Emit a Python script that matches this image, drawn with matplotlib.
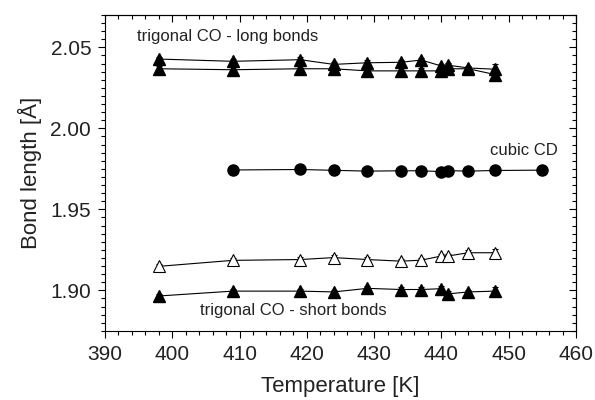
import numpy as np
import matplotlib
matplotlib.use("Agg")
import matplotlib.pyplot as plt
from matplotlib.ticker import MultipleLocator

plt.rcParams['font.family'] = ['Liberation Sans', 'DejaVu Sans']

# temperatures of the trigonal phase (K)
T_trig = [398, 409, 419, 424, 429, 434, 437, 440, 441, 444, 448]
# long bonds (two sets)
long_a = [2.0428, 2.0414, 2.0424, 2.0395, 2.0405, 2.0408, 2.0422, 2.0385, 2.0390, 2.0373, 2.0365]
long_b = [2.0368, 2.0362, 2.0368, 2.0368, 2.0355, 2.0355, 2.0355, 2.0355, 2.0368, 2.0368, 2.0332]
long_err = [0.0015, 0.0015, 0.0015, 0.0015, 0.0015, 0.0015, 0.0015, 0.0015, 0.0015, 0.0012, 0.0035]
# short bonds
short_open = [1.9148, 1.9185, 1.9190, 1.9202, 1.9190, 1.9180, 1.9186, 1.9212, 1.9212, 1.9232, 1.9232]
short_fill = [1.8965, 1.8995, 1.8995, 1.8990, 1.9012, 1.9005, 1.9005, 1.9010, 1.8978, 1.8990, 1.8995]
short_err = [0.0015, 0.0015, 0.0015, 0.0015, 0.0015, 0.0015, 0.0015, 0.0015, 0.0015, 0.0015, 0.0025]

# cubic phase
T_cub = [409, 419, 424, 429, 434, 437, 440, 441, 444, 448, 455]
cubic = [1.9743, 1.9746, 1.9741, 1.9736, 1.9738, 1.9738, 1.9733, 1.9739, 1.9736, 1.9740, 1.9742]
cubic_err = [0.0015, 0.0008, 0.0008, 0.0008, 0.0008, 0.0008, 0.0008, 0.0008, 0.0008, 0.0008, 0.0008]

fig = plt.figure(figsize=(5.95, 4.0), dpi=100)
ax = fig.add_axes([0.1765, 0.173, 0.7915, 0.7895])

kw = dict(color='black', lw=0.8, elinewidth=0.8, capsize=2.5, capthick=0.8)
ax.errorbar(T_trig, long_a, yerr=long_err, fmt='-^', ms=9, mfc='black', mec='black', **kw)
ax.errorbar(T_trig, long_b, yerr=long_err, fmt='-^', ms=9, mfc='black', mec='black', **kw)
ax.errorbar(T_trig, short_open, yerr=short_err, fmt='-^', ms=9, mfc='white', mec='black', mew=0.8, **kw)
ax.errorbar(T_trig, short_fill, yerr=short_err, fmt='-^', ms=9, mfc='black', mec='black', **kw)
ax.errorbar(T_cub, cubic, yerr=cubic_err, fmt='-o', ms=8, mfc='black', mec='black', **kw)

txt = '#222222'
ax.text(394.8, 2.057, 'trigonal CO - long bonds', fontsize=12, va='center', ha='left', color=txt)
ax.text(447.2, 1.9866, 'cubic CD', fontsize=12, va='center', ha='left', color=txt)
ax.text(404.1, 1.8878, 'trigonal CO - short bonds', fontsize=12, va='center', ha='left', color=txt)

ax.set_xlim(390, 460)
ax.set_ylim(1.875, 2.07)
ax.xaxis.set_major_locator(MultipleLocator(10))
ax.xaxis.set_minor_locator(MultipleLocator(2))
ax.yaxis.set_major_locator(MultipleLocator(0.05))
ax.yaxis.set_minor_locator(MultipleLocator(0.005))
ax.tick_params(which='both', direction='out', width=0.8, labelsize=15, colors='black',
               labelcolor=txt, pad=5)
ax.tick_params(which='major', length=5)
ax.tick_params(which='minor', length=3)

top = ax.secondary_xaxis('top')
top.xaxis.set_major_locator(MultipleLocator(10))
top.xaxis.set_minor_locator(MultipleLocator(2))
top.tick_params(which='both', direction='in', labeltop=False, width=0.8)
top.tick_params(which='major', length=5)
top.tick_params(which='minor', length=3)

right = ax.secondary_yaxis('right')
right.yaxis.set_major_locator(MultipleLocator(0.05))
right.yaxis.set_minor_locator(MultipleLocator(0.005))
right.tick_params(which='both', direction='in', labelright=False, width=0.8)
right.tick_params(which='major', length=5)
right.tick_params(which='minor', length=3)

for s in ax.spines.values():
    s.set_linewidth(0.8)

ax.set_xlabel('Temperature [K]', fontsize=16, color=txt, labelpad=9)
ax.set_ylabel('Bond length [Å]', fontsize=16, color=txt, labelpad=6)

fig.savefig('out.png', dpi=100)
